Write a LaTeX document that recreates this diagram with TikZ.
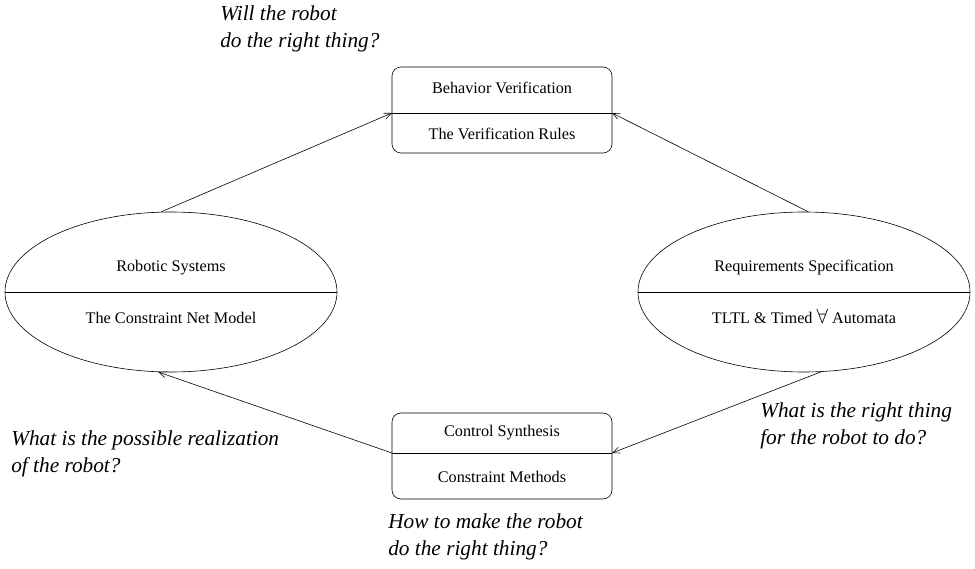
\documentclass[tikz,border=0pt]{standalone}
\usepackage{fontspec}
\usepackage{amssymb}
\setmainfont{Liberation Serif}
\usetikzlibrary{shapes.geometric,arrows.meta}
\begin{document}
\begin{tikzpicture}[x=1pt,y=-1pt,
  line width=0.6pt,
  oval/.style={draw,ellipse,minimum width=332pt,minimum height=160pt,inner sep=0pt},
  rbox/.style={draw,rounded corners=9pt,minimum width=220pt,minimum height=86pt,inner sep=0pt},
  inner/.style={font=\fontsize{16.2}{18}\selectfont,inner sep=0pt},
  question/.style={font=\fontsize{21.3}{27}\selectfont\itshape,align=left,anchor=north west,inner sep=0pt},
  arr/.style={-{Straight Barb[length=7pt,width=6pt]}}
]
\useasboundingbox (0,0) rectangle (975,569);
% ellipses
\node[oval] (L) at (171,292) {};
\node[oval] (R) at (804,292) {};
\draw (L.west) -- (L.east);
\draw (R.west) -- (R.east);
\node[inner] (Lt) at (171,268) {Robotic Systems};
\node[inner] (Lb) at (171,318) {The Constraint Net Model};
\node[inner] (Rt) at (804,268) {Requirements Specification};
\node[inner] (Rb) at (804,316.5) {TLTL \& Timed {\fontsize{22}{22}\selectfont$\forall$} Automata};
% boxes
\node[rbox] (T) at (502,110) {};
\node[rbox] (B) at (502,456) {};
\coordinate (Tl) at (392,113);
\coordinate (Tr) at (612,113);
\coordinate (Bl) at (392,453);
\coordinate (Br) at (612,453);
\draw (Tl) -- (Tr);
\draw (Bl) -- (Br);
\node[inner] (Tt) at (502,88) {Behavior Verification};
\node[inner] (Tb) at (502,134) {The Verification Rules};
\node[inner] (Bt) at (502,433) {Control Synthesis};
\node[inner] (Bb) at (502,477) {Constraint Methods};
% arrows
\draw[arr] (L.97) -- (Tl);
\draw[arr] (R.87) -- (Tr);
\draw[arr] (R.-78) -- (Br);
\draw[arr] (Bl) -- (L.-99);
% questions
\node[question] (q1) at (220,5) {Will the robot\\do the right thing?};
\node[question] (q2) at (11,430) {What is the possible realization\\of the robot?};
\node[question] (q3) at (388,513) {How to make the robot\\do the right thing?};
\node[question] (q4) at (760,402) {What is the right thing\\for the robot to do?};
\end{tikzpicture}
\end{document}
